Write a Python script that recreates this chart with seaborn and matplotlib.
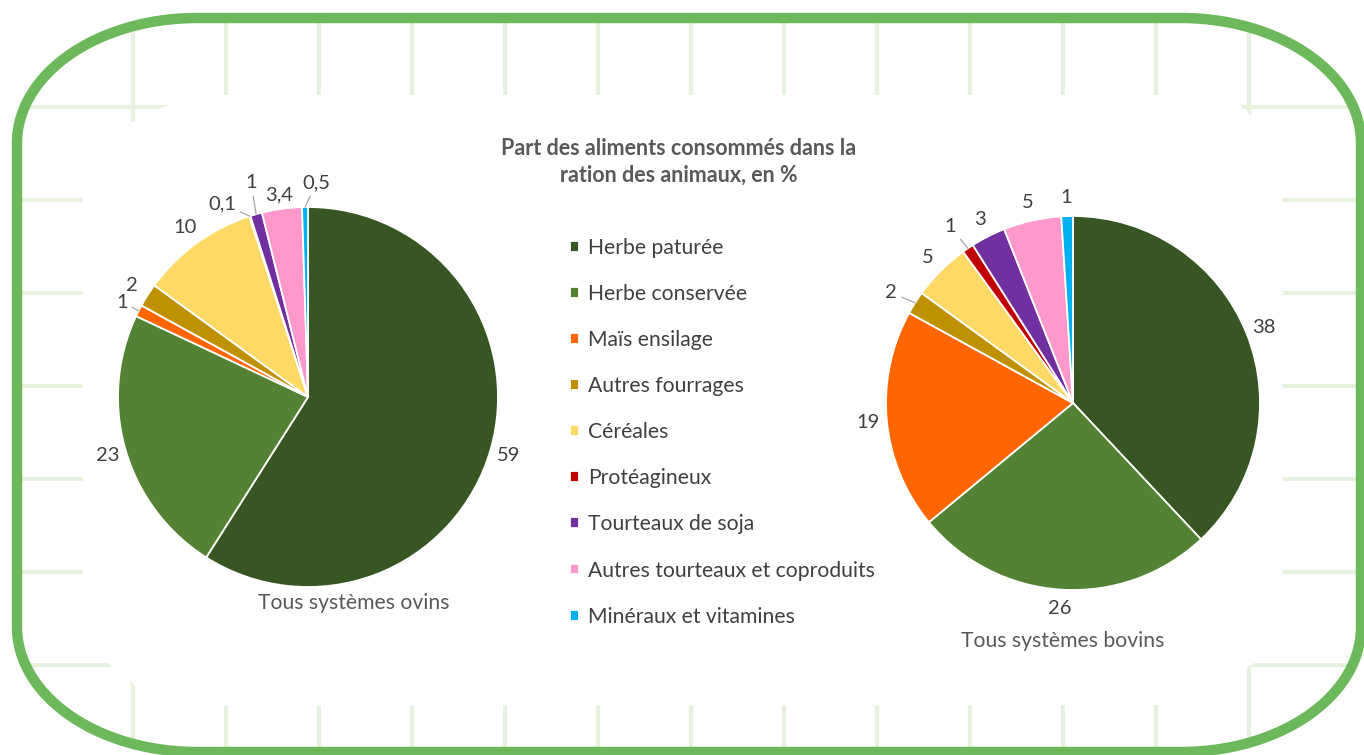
import numpy as np
import matplotlib
matplotlib.use("Agg")
import matplotlib.pyplot as plt
from matplotlib.patches import Polygon
import seaborn as sns

# données
aliments = ["Herbe paturée", "Herbe conservée", "Maïs ensilage", "Autres fourrages",
            "Céréales", "Protéagineux", "Tourteaux de soja",
            "Autres tourteaux et coproduits", "Minéraux et vitamines"]
ovins = [59, 23, 1, 2, 10, 0.1, 1, 3.4, 0.5]
bovins = [38, 26, 19, 2, 5, 1, 3, 5, 1]
couleurs = ["#375623", "#548235", "#ff6600", "#bf9000", "#ffd966",
            "#c00000", "#7030a0", "#ff99cc", "#00b0f0"]
titre = "Part des aliments consommés dans la\nration des animaux, en %"
nom_ovins = "Tous systèmes ovins"
nom_bovins = "Tous systèmes bovins"

W, H = 1364, 755
vert = "#6cb85b"
grille = "#e6f2de"
gris_txt = "#404040"
gris_titre = "#595959"

sns.set_theme(style="white")
plt.rcParams["font.family"] = ["Lato", "DejaVu Sans"]
palette = sns.color_palette(couleurs)

fig = plt.figure(figsize=(W / 100, H / 100), dpi=100)
fig.patch.set_facecolor("white")

# décor : cadre arrondi vert + grille pâle
bg = fig.add_axes([0, 0, 1, 1], zorder=-1)
bg.set_xlim(0, W)
bg.set_ylim(H, 0)
bg.axis("off")


def cadre(x0, y0, x1, y1, rx, ry, n=60):
    t = np.linspace(0, np.pi / 2, n)
    tl = np.c_[x0 + rx - rx * np.cos(t), y0 + ry - ry * np.sin(t)]
    tr = np.c_[x1 - rx + rx * np.sin(t), y0 + ry - ry * np.cos(t)]
    br = np.c_[x1 - rx + rx * np.cos(t), y1 - ry + ry * np.sin(t)]
    bl = np.c_[x0 + rx - rx * np.sin(t), y1 - ry + ry * np.cos(t)]
    return np.vstack([tl, tr, br, bl])


bord = Polygon(cadre(17, 18, 1361, 752, 180, 125), closed=True,
               fc="none", ec=vert, lw=7.5, zorder=5)
bg.add_patch(bord)

for gx in np.arange(133, 1260, 93):
    ln, = bg.plot([gx, gx], [0, H], color=grille, lw=3, zorder=1)
    ln.set_clip_path(bord)
for gy in np.arange(107, 700, 93):
    ln, = bg.plot([0, W], [gy, gy], color=grille, lw=3, zorder=1)
    ln.set_clip_path(bord)

zone = [(83, 150), (120, 128), (170, 104), (210, 95),
        (1190, 95), (1240, 105), (1265, 130), (1283, 150),
        (1283, 640), (1252, 665), (1200, 690), (1160, 705),
        (150, 706), (130, 680), (110, 665), (83, 640)]
bg.add_patch(Polygon(zone, closed=True, fc="white", ec="none", zorder=2))


def fmt(v):
    return f"{v:g}".replace(".", ",")


def camembert(cx, cy, r, valeurs, decalages, guides):
    s = 2.5 * r
    ax = fig.add_axes([(cx - s / 2) / W, 1 - (cy + s / 2) / H, s / W, s / H])
    wedges, _ = ax.pie(valeurs, colors=palette, startangle=90, counterclock=False,
                       wedgeprops=dict(edgecolor="white", linewidth=1.3))
    for i, (w, v) in enumerate(zip(wedges, valeurs)):
        ang = np.deg2rad((w.theta1 + w.theta2) / 2)
        dx, dy = decalages.get(i, (0, 0))
        xt = 1.1 * np.cos(ang) + dx / r
        yt = 1.1 * np.sin(ang) - dy / r
        props = None
        if i in guides:
            props = dict(arrowstyle="-", color="#a6a6a6", lw=0.9, shrinkA=1, shrinkB=0)
        ax.annotate(fmt(v), xy=(np.cos(ang), np.sin(ang)), xytext=(xt, yt),
                    ha="center", va="center", fontsize=14.5, color=gris_txt,
                    arrowprops=props)
    return ax, wedges


ax1, wedges = camembert(308, 397, 190, ovins,
                        {5: (-22, 6), 6: (0, -13), 7: (0, 5), 8: (12, -5)}, {2, 5, 6, 8})
ax2, _ = camembert(1073, 403, 187, bovins,
                   {3: (-8, 0), 5: (-7, -6)}, {3, 5})

fig.text(354 / W, 1 - 603 / H, nom_ovins, ha="center", va="center",
         fontsize=15.2, color=gris_titre)
fig.text(1063 / W, 1 - 641 / H, nom_bovins, ha="center", va="center",
         fontsize=15.2, color=gris_titre)

fig.text(679 / W, 1 - 162 / H, titre, ha="center", va="center", fontsize=15.5,
         fontweight="bold", color=gris_titre, linespacing=1.3)

fig.legend(wedges, aliments, loc="upper left", bbox_to_anchor=(570 / W, 1 - 238 / H),
           frameon=False, fontsize=15.2, labelcolor=gris_txt, borderpad=0,
           borderaxespad=0, labelspacing=1.235, handlelength=0.42, handleheight=0.42,
           handletextpad=0.45)

fig.savefig("out.png", dpi=100, facecolor="white")
